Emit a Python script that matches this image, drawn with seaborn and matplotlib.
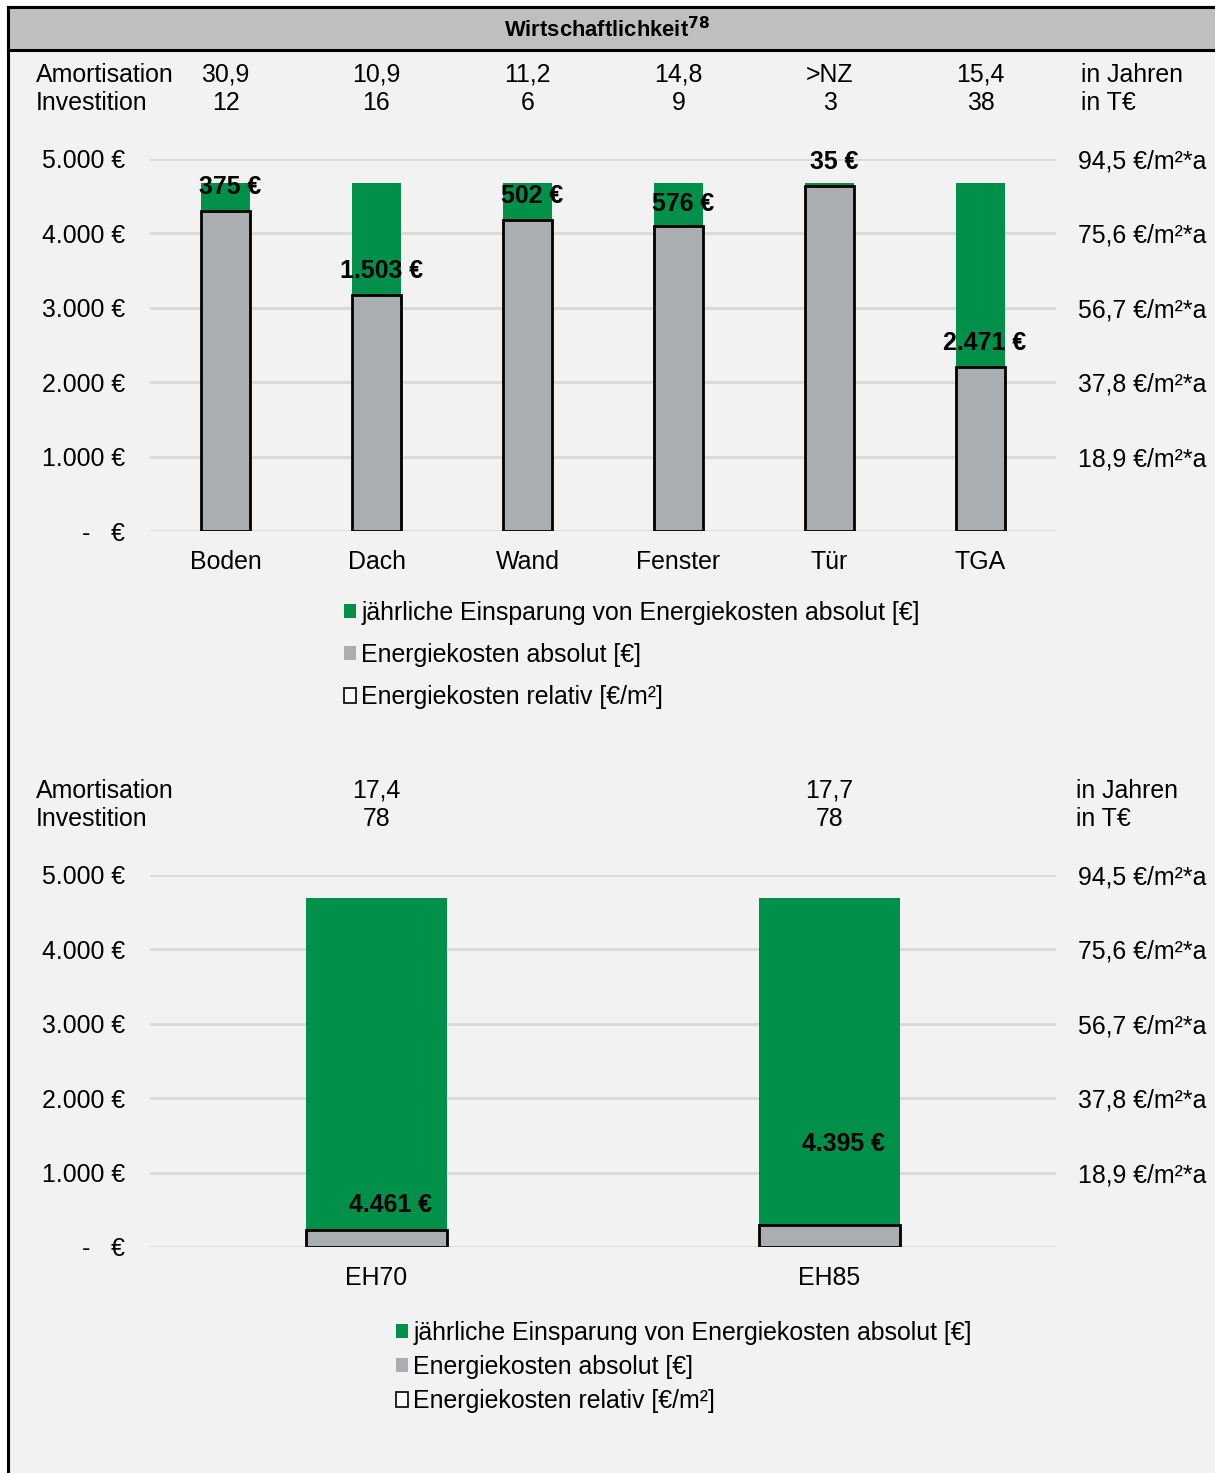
import pandas as pd
import seaborn as sns
import matplotlib.pyplot as plt
from matplotlib.patches import Patch, Rectangle
from matplotlib.transforms import blended_transform_factory

# Data
top_cats = ['Boden', 'Dach', 'Wand', 'Fenster', 'Tür', 'TGA']
top_savings = [375, 1503, 502, 576, 35, 2471]
top_costs = [4300, 3172, 4173, 4099, 4640, 2204]
top_relativ = [81.3, 60.0, 78.9, 77.5, 87.7, 41.7]
top_amort = ['30,9', '10,9', '11,2', '14,8', '>NZ', '15,4']
top_invest = ['12', '16', '6', '9', '3', '38']

bot_cats = ['EH70', 'EH85']
bot_savings = [4461, 4395]
bot_costs = [230, 290]
bot_relativ = [4.3, 5.5]
bot_amort = ['17,4', '17,7']
bot_invest = ['78', '78']

left_ticks = [0, 1000, 2000, 3000, 4000, 5000]
left_labels = ['-   €', '1.000 €', '2.000 €', '3.000 €', '4.000 €', '5.000 €']
right_ticks = [18.9, 37.8, 56.7, 75.6, 94.5]
right_labels = ['18,9 €/m²*a', '37,8 €/m²*a', '56,7 €/m²*a', '75,6 €/m²*a', '94,5 €/m²*a']

# label heights above the top of the grey bar (data units)
top_label_off = [320, 320, 330, 290, 320, 320]
bot_label_off = [340, 1100]

GREEN = '#00904a'
GREY = '#abaeb1'
BG = '#f2f2f2'
FS = 17.9

sns.set_theme(style='white')
plt.rcParams['font.family'] = ['Liberation Sans', 'DejaVu Sans']
plt.rcParams['text.color'] = 'black'
plt.rcParams['xtick.color'] = 'black'
plt.rcParams['ytick.color'] = 'black'

W, H = 1215, 1473
fig = plt.figure(figsize=(W / 100, H / 100), dpi=100)
fig.patch.set_facecolor('white')

# frame and header bar
fig.patches.append(Rectangle((8 / W, -0.01), 1.0, 1 - 7 / H + 0.01, transform=fig.transFigure,
                             facecolor=BG, edgecolor='black', linewidth=2.2, zorder=-10))
fig.patches.append(Rectangle((8 / W, 1 - 50 / H), 1.0, 43 / H, transform=fig.transFigure,
                             facecolor='#bfbfbf', edgecolor='black', linewidth=2.2, zorder=-9))
fig.text(0.5, 1 - 30 / H, r'Wirtschaftlichkeit$^{\mathbf{78}}$', ha='center', va='center',
         fontsize=15.8, fontweight='bold')


def panel(bottom_px, cats, savings, costs, relativ, amort, invest, offs, width,
          row_x, unit_x, legend_xy, legend_spacing):
    ax = fig.add_axes([150 / W, 1 - bottom_px / H, 906 / W, 372 / H])
    ax.set_facecolor('none')
    df = pd.DataFrame({'cat': cats, 'savings': savings, 'costs': costs, 'relativ': relativ})
    df['total'] = df['costs'] + df['savings']

    for v in left_ticks:
        ax.axhline(v, color='#d9d9d9', linewidth=2, zorder=0)
    sns.barplot(data=df, x='cat', y='total', color=GREEN, width=width, linewidth=0,
                saturation=1, errorbar=None, ax=ax, zorder=2)
    sns.barplot(data=df, x='cat', y='costs', color=GREY, width=width, linewidth=0,
                saturation=1, errorbar=None, ax=ax, zorder=3)
    ax.set_ylim(0, 5000)
    ax.set_xlim(-0.5, len(cats) - 0.5)
    ax.set_yticks(left_ticks)
    ax.set_yticklabels(left_labels, fontsize=FS)
    ax.tick_params(axis='y', length=0, pad=18)
    ax.tick_params(axis='x', length=0, pad=14, labelsize=FS)
    ax.set_xlabel('')
    ax.set_ylabel('')
    sns.despine(ax=ax, left=True, bottom=True)

    for i, (c, s) in enumerate(zip(costs, savings)):
        txt = f'{s:,.0f}'.replace(',', '.') + ' €'
        ax.text(i + 0.03, c + offs[i], txt, ha='center', va='center', fontsize=FS,
                fontweight='bold', zorder=6)

    ax2 = ax.twinx()
    sns.barplot(data=df, x='cat', y='relativ', color='black', fill=False, width=width,
                linewidth=2, errorbar=None, ax=ax2, zorder=4)
    ax2.set_ylim(0, 94.5)
    ax2.set_xlim(-0.5, len(cats) - 0.5)
    ax2.set_yticks(right_ticks)
    ax2.set_yticklabels(right_labels, fontsize=FS)
    ax2.tick_params(axis='y', length=0, pad=16)
    ax2.set_ylabel('')
    for sp in ax2.spines.values():
        sp.set_visible(False)

    # amortisation / investment rows above the plot
    tr = blended_transform_factory(ax.transData, ax.transAxes)
    for i in range(len(cats)):
        ax.text(i, 1.226, amort[i], transform=tr, ha='center', va='center', fontsize=FS)
        ax.text(i, 1.151, invest[i], transform=tr, ha='center', va='center', fontsize=FS)
    y1 = 1 - (bottom_px - 1.226 * 372) / H
    y2 = 1 - (bottom_px - 1.151 * 372) / H
    fig.text(row_x / W, y1, 'Amortisation', ha='left', va='center', fontsize=FS)
    fig.text(row_x / W, y2, 'Investition', ha='left', va='center', fontsize=FS)
    fig.text(unit_x / W, y1, 'in Jahren', ha='left', va='center', fontsize=FS)
    fig.text(unit_x / W, y2, 'in T€', ha='left', va='center', fontsize=FS)

    handles = [Patch(facecolor=GREEN, edgecolor='none'),
               Patch(facecolor=GREY, edgecolor='none'),
               Patch(facecolor='white', edgecolor='black', linewidth=1.2)]
    labels = ['jährliche Einsparung von Energiekosten absolut [€]',
              'Energiekosten absolut [€]',
              'Energiekosten relativ [€/m²]']
    fig.legend(handles, labels, loc='upper left',
               bbox_to_anchor=(legend_xy[0] / W, 1 - legend_xy[1] / H),
               bbox_transform=fig.transFigure, frameon=False, fontsize=FS,
               handlelength=0.5, handleheight=0.5, handletextpad=0.2,
               labelspacing=legend_spacing, borderpad=0, borderaxespad=0)
    return ax


panel(531, top_cats, top_savings, top_costs, top_relativ, top_amort, top_invest,
      top_label_off, 0.32, 36, 1081, (344, 601), 0.73)
panel(1247, bot_cats, bot_savings, bot_costs, bot_relativ, bot_amort, bot_invest,
      bot_label_off, 0.31, 36, 1076, (396, 1321), 0.41)

fig.savefig('out.png', dpi=100, facecolor=fig.get_facecolor())
